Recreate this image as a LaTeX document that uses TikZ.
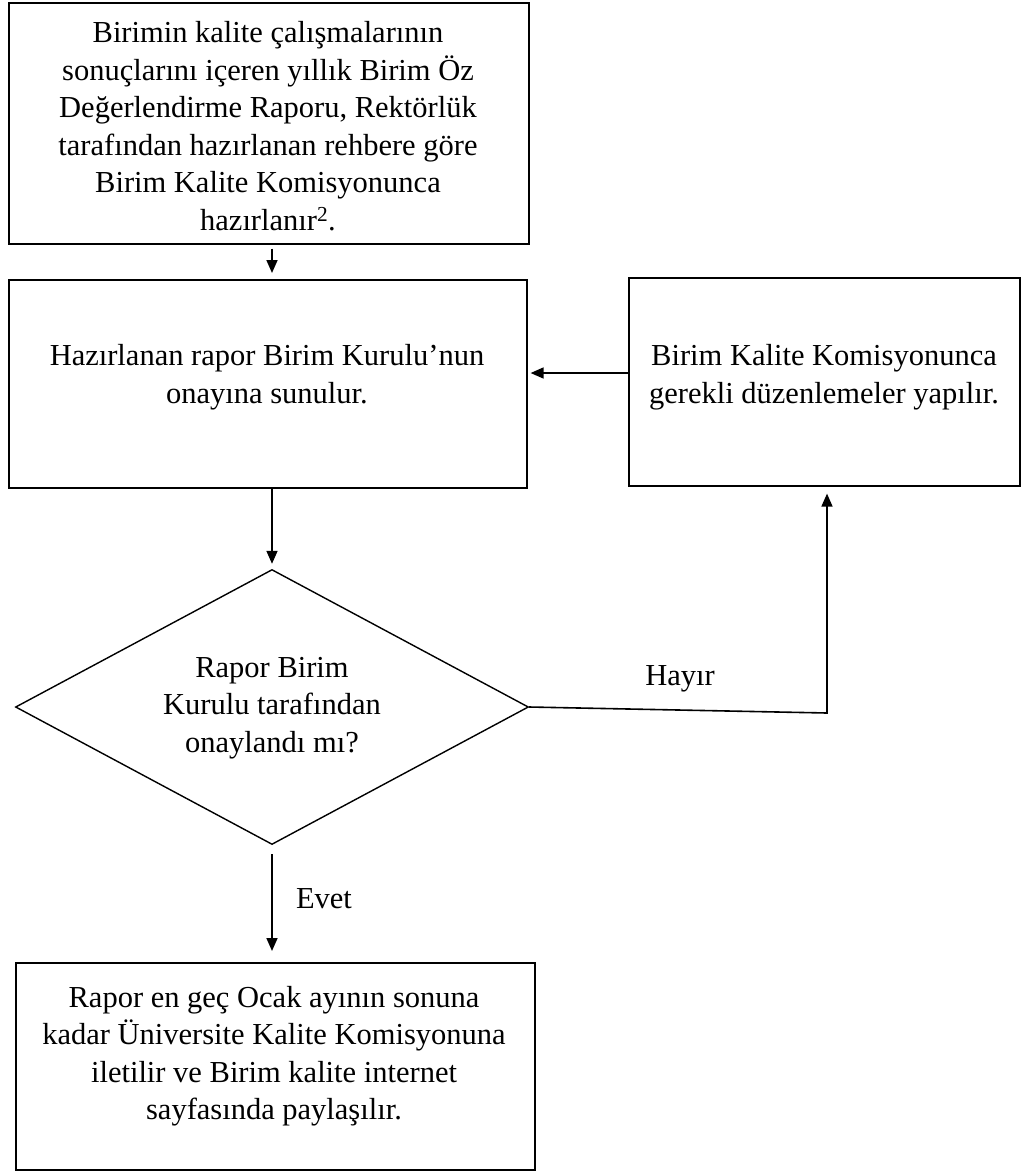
\documentclass[tikz,border=0pt]{standalone}
\usepackage{fontspec}
\setmainfont{Liberation Serif}
\usetikzlibrary{arrows.meta,shapes.geometric,calc}
\begin{document}
\begin{tikzpicture}[x=1pt,y=-1pt,
  box/.style={draw=black,line width=1.6pt,rectangle,inner sep=0pt,anchor=north west},
  dec/.style={draw=black,line width=1.4pt,diamond,inner sep=0pt,minimum width=513pt,minimum height=275pt,aspect=1.865},
  txt/.style={align=center,inner sep=0pt,font=\fontsize{30.5}{37.5}\selectfont},
  lbl/.style={inner sep=0pt,anchor=base,font=\fontsize{30.5}{37.5}\selectfont},
  arr/.style={draw=black,line width=1.6pt,-{Triangle[length=13pt,width=11pt]}}]
\useasboundingbox (0,0) rectangle (1022,1171);
% boxes
\node[box,minimum width=520pt,minimum height=241pt] (b1) at (8,2) {};
\node[box,minimum width=518pt,minimum height=208pt] (b2) at (8,279) {};
\node[box,minimum width=391pt,minimum height=208pt] (b3) at (628,277) {};
\node[box,minimum width=519pt,minimum height=207pt] (b4) at (15,962) {};
\node[dec] (d) at (272,707) {};
% texts
\node[txt] (t1) at (268,126) {Birimin kalite çalışmalarının\\sonuçlarını içeren yıllık Birim Öz\\Değerlendirme Raporu, Rektörlük\\tarafından hazırlanan rehbere göre\\Birim Kalite Komisyonunca\\hazırlanır\textsuperscript{2}.};
\node[txt] (t2) at (267,377) {Hazırlanan rapor Birim Kurulu’nun\\onayına sunulur.};
\node[txt] (t3) at (824,377) {Birim Kalite Komisyonunca\\gerekli düzenlemeler yapılır.};
\node[txt] (t4) at (272,708) {Rapor Birim\\Kurulu tarafından\\onaylandı mı?};
\node[txt] (t5) at (274,1056) {Rapor en geç Ocak ayının sonuna\\kadar Üniversite Kalite Komisyonuna\\iletilir ve Birim kalite internet\\sayfasında paylaşılır.};
\node[lbl] (hayir) at (680,685) {Hayır};
\node[lbl] (evet) at (324,908) {Evet};
% connectors
\coordinate (h) at (827,713);
\coordinate (ay) at (0,373);
\draw[arr,shorten <=4pt,shorten >=6pt] (b1.south -| d.north) -- (b2.north -| d.north);
\draw[arr,shorten >=5pt] (b2.south -| d.north) -- (d.north);
\draw[arr,shorten >=3pt] (b3.west |- ay) -- (b2.east |- ay);
\draw[arr,shorten >=7pt] (d.east) -- (h) -- (b3.south -| h);
\draw[arr,shorten <=9pt,shorten >=11pt] (d.south) -- (b4.north -| d.south);
\end{tikzpicture}
\end{document}
